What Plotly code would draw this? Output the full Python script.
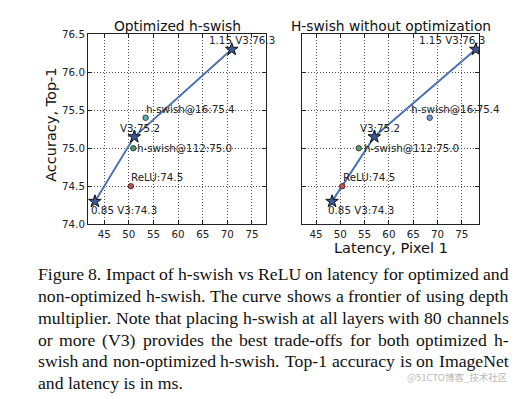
import plotly.graph_objects as go

W, H = 531, 399

# ---------------- data ----------------
curve_y = [74.3, 75.15, 76.3]
curve_labels = ["0.85 V3:74.3", "V3:75.2", "1.15 V3:76.3"]

opt_curve_x = [43.1, 51.1, 70.9]
unopt_curve_x = [48.3, 57.0, 77.9]

variant_labels = ["h-swish@16:75.4", "h-swish@112:75.0", "ReLU:74.5"]
variant_y = [75.4, 75.0, 74.5]
opt_variant_x = [53.4, 50.9, 50.4]
unopt_variant_x = [68.4, 53.8, 50.4]

x_ticks = [45, 50, 55, 60, 65, 70, 75]
y_ticks = [74.0, 74.5, 75.0, 75.5, 76.0, 76.5]
y_tick_text = ["74.0", "74.5", "75.0", "75.5", "76.0", "76.5"]

titles = ["Optimized h-swish", "H-swish without optimization"]
y_title = "Accuracy, Top-1"
x_title = "Latency, Pixel 1"

caption_lines = [
    "Figure 8. Impact of h-swish vs ReLU on latency for optimized and",
    "non-optimized h-swish. The curve shows a frontier of using depth",
    "multiplier. Note that placing h-swish at all layers with 80 channels",
    "or more (V3) provides the best trade-offs for both optimized h-",
    "swish and non-optimized h-swish. Top-1 accuracy is on ImageNet",
    "and latency is in ms.",
]
watermark = "@51CTO博客_技术社区"

# ---------------- style ----------------
FONT = "DejaVu Sans"
SERIF = "Liberation Serif"
LINE_COLOR = "#4c72b0"
STAR_COLOR = "#3f5896"
opt_variant_colors = ["#5ab0b8", "#4f9a5c", "#c44e52"]
unopt_variant_colors = ["#6a9bd1", "#5f9a70", "#c44e52"]

# pixel offsets of labels: (dx to text left edge, dy of text centre; +down)
opt_curve_off = [(-4, 9), (-14, -9), (-23, -9.5)]
unopt_curve_off = [(-4, 9), (-14, -9), (-57, -9.5)]
opt_var_off = [(0, -8.5), (3.5, 0), (0.5, -9.3)]
unopt_var_off = [(-18.5, -9), (5.5, 0), (1, -9.3)]

# caption block geometry (pixels)
CAP_LEFT, CAP_RIGHT = 37.5, 508.5
CAP_TOP, CAP_STEP = 276.5, 22.5
CAP_SIZE = 17.7

# Times / Liberation Serif advance widths (per 1000 em)
TIMES_W = {' ': 250, '.': 250, ',': 250, '-': 333, '(': 333, ')': 333, ':': 278,
           'F': 556, 'I': 333, 'L': 611, 'N': 722, 'R': 667, 'T': 611, 'U': 722, 'V': 722,
           'a': 444, 'b': 500, 'c': 444, 'd': 500, 'e': 444, 'f': 333, 'g': 500, 'h': 500,
           'i': 278, 'j': 278, 'k': 500, 'l': 278, 'm': 778, 'n': 500, 'o': 500, 'p': 500,
           'q': 500, 'r': 333, 's': 389, 't': 278, 'u': 500, 'v': 500, 'w': 722, 'x': 500,
           'y': 500, 'z': 444}


def text_width(s, size):
    return sum(TIMES_W.get(c, 500) for c in s) * size / 1000.0


def px(x):
    return x / W


def py(y):
    return 1 - y / H


fig = go.Figure()

panels = [
    ("x", "y", opt_curve_x, opt_variant_x, opt_variant_colors, opt_curve_off, opt_var_off),
    ("x2", "y2", unopt_curve_x, unopt_variant_x, unopt_variant_colors, unopt_curve_off, unopt_var_off),
]

annotations = []
for xa, ya, cx, vx, vcols, coff, voff in panels:
    fig.add_trace(go.Scatter(x=cx, y=curve_y, mode="lines", xaxis=xa, yaxis=ya,
                             line=dict(color=LINE_COLOR, width=2), showlegend=False,
                             hoverinfo="skip"))
    for i in range(len(vx)):
        fig.add_trace(go.Scatter(x=[vx[i]], y=[variant_y[i]], mode="markers", xaxis=xa, yaxis=ya,
                                 marker=dict(symbol="circle", size=5.5, color=vcols[i],
                                             line=dict(color="#222", width=0.8)),
                                 showlegend=False))
    fig.add_trace(go.Scatter(x=cx, y=curve_y, mode="markers", xaxis=xa, yaxis=ya,
                             marker=dict(symbol="star", size=9.5, color=STAR_COLOR,
                                         line=dict(color="#111", width=1)),
                             showlegend=False))
    for i in range(len(cx)):
        annotations.append(dict(x=cx[i], y=curve_y[i], xref=xa, yref=ya, text=curve_labels[i],
                                showarrow=False, xanchor="left", yanchor="middle",
                                xshift=coff[i][0], yshift=-coff[i][1], borderpad=0,
                                borderwidth=0,
                                font=dict(family=FONT, size=10.3, color="#222")))
    for i in range(len(vx)):
        annotations.append(dict(x=vx[i], y=variant_y[i], xref=xa, yref=ya, text=variant_labels[i],
                                showarrow=False, xanchor="left", yanchor="middle",
                                xshift=voff[i][0], yshift=-voff[i][1], borderpad=0,
                                borderwidth=0,
                                font=dict(family=FONT, size=10.3, color="#222")))

# titles and axis titles
annotations.append(dict(x=px(177), y=py(20.5), xref="paper", yref="paper", text=titles[0],
                        showarrow=False, xanchor="center", yanchor="middle", borderpad=0,
                        borderwidth=0, font=dict(family=FONT, size=13.8, color="#111")))
annotations.append(dict(x=px(390.5), y=py(20.5), xref="paper", yref="paper", text=titles[1],
                        showarrow=False, xanchor="center", yanchor="middle", borderpad=0,
                        borderwidth=0, font=dict(family=FONT, size=13.8, color="#111")))
annotations.append(dict(x=px(51.5), y=py(123), xref="paper", yref="paper", text=y_title,
                        showarrow=False, xanchor="center", yanchor="middle", textangle=-90,
                        font=dict(family=FONT, size=14.5, color="#111")))
annotations.append(dict(x=px(390.5), y=py(249.5), xref="paper", yref="paper", text=x_title,
                        showarrow=False, xanchor="center", yanchor="middle",
                        font=dict(family=FONT, size=14.5, color="#111")))

# caption: justified lines (word by word), last line left-aligned
for i, line in enumerate(caption_lines):
    yc = py(CAP_TOP + CAP_STEP * i)
    words = line.split(" ")
    if i == len(caption_lines) - 1 or len(words) < 2:
        annotations.append(dict(x=px(CAP_LEFT), y=yc, xref="paper", yref="paper", text=line,
                                showarrow=False, xanchor="left", yanchor="middle", borderpad=0,
                                borderwidth=0,
                                font=dict(family=SERIF, size=CAP_SIZE, color="#111")))
        continue
    widths = [text_width(w, CAP_SIZE) for w in words]
    gap = (CAP_RIGHT - CAP_LEFT - sum(widths)) / (len(words) - 1)
    xpos = CAP_LEFT
    for w, wd in zip(words, widths):
        annotations.append(dict(x=px(xpos), y=yc, xref="paper", yref="paper", text=w,
                                showarrow=False, xanchor="left", yanchor="middle", borderpad=0,
                                borderwidth=0,
                                font=dict(family=SERIF, size=CAP_SIZE, color="#111")))
        xpos += wd + gap

annotations.append(dict(x=px(510), y=py(383), xref="paper", yref="paper", text=watermark,
                        showarrow=False, xanchor="right", yanchor="middle",
                        font=dict(family="Noto Sans CJK SC", size=9.5, color="#b8b8b8")))

axis_common = dict(showline=True, linecolor="#222", linewidth=1, mirror="ticks",
                   ticks="inside", ticklen=4, tickcolor="#222", showgrid=True,
                   gridcolor="#555", griddash="1px,2px", gridwidth=1, zeroline=False,
                   tickfont=dict(family=FONT, size=10.3, color="#222"))

fig.update_layout(
    width=W, height=H, autosize=False,
    margin=dict(l=0, r=0, t=0, b=0),
    paper_bgcolor="white", plot_bgcolor="white",
    showlegend=False,
    xaxis=dict(domain=[px(88), px(266)], range=[41.7, 77.85], tickvals=x_ticks,
               anchor="y", **axis_common),
    yaxis=dict(domain=[py(225), py(29)], range=[74.0, 76.5], tickvals=y_ticks,
               ticktext=y_tick_text, anchor="x", **axis_common),
    xaxis2=dict(domain=[px(301.7), px(479)], range=[42.05, 78.55], tickvals=x_ticks,
                anchor="y2", **axis_common),
    yaxis2=dict(domain=[py(225), py(29)], range=[74.0, 76.5], tickvals=y_ticks,
                showticklabels=False, anchor="x2", **axis_common),
    annotations=annotations,
)

fig.write_html("out.html", config={"displayModeBar": False},
               post_script="document.body.style.margin='0px';document.body.style.overflow='hidden';")
